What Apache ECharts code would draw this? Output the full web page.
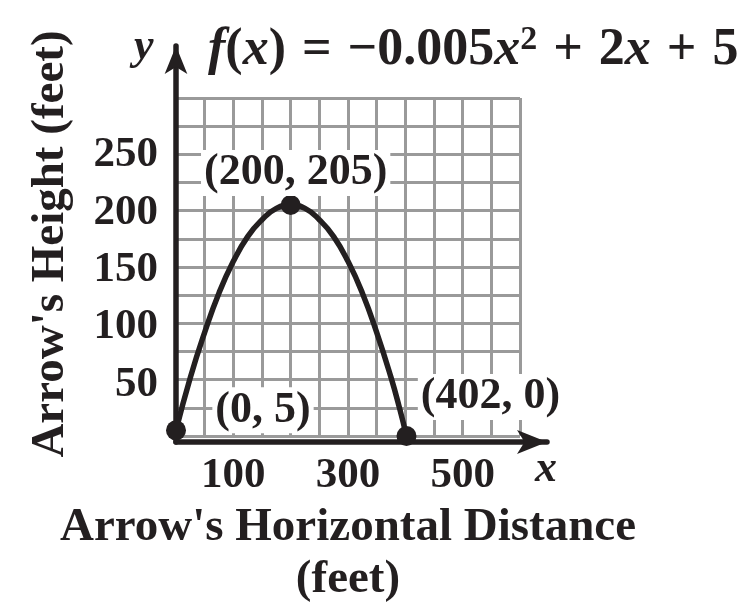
<!DOCTYPE html>
<html>
<head>
<meta charset="utf-8">
<script src="https://cdn.jsdelivr.net/npm/echarts@6/dist/echarts.min.js"></script>
<style>
html,body{margin:0;padding:0;background:#fff;}
#c{width:749px;height:611px;}
</style>
</head>
<body>
<div id="c"></div>
<script>
// Curve samples
const curveX = [0, 25, 50, 75, 100, 125, 150, 175, 200, 225, 250, 275, 300, 325, 350, 375, 390, 402];
const curveY = [5, 52, 92, 127, 155, 177, 192, 202, 205, 202, 192, 177, 155, 127, 92, 52, 24.5, 0];
// Labelled points
const pointX = [0, 200, 402];
const pointY = [5, 205, 0];
const pointLabels = ['(0, 5)', '(200, 205)', '(402, 0)'];
// Tick labels shown
const xTickLabels = [100, 300, 500];
const yTickLabels = [50, 100, 150, 200, 250];
const yTitle = "Arrow's Height (feet)";
const xTitle = "Arrow's Horizontal Distance\n(feet)";

const FONT = "'Liberation Serif','Times New Roman',serif";
const INK = '#231f20';
const GRIDC = '#9a9a9a';

const chart = echarts.init(document.getElementById('c'), null, {renderer: 'canvas'});

const curveData = curveX.map((x, i) => [x, curveY[i]]);
const labelOffsets = [[87, -20], [5, -32], [84, -39]];
const pointData = pointX.map((x, i) => ({
  value: [x, pointY[i]],
  label: {
    show: true,
    formatter: pointLabels[i],
    position: 'inside',
    offset: labelOffsets[i]
  }
}));

const option = {
  backgroundColor: '#fff',
  animation: false,
  title: {
    text: '{i|f}{b|(}{i|x}{b|)}{g| = }{b|\u22120.005}{i|x}{s|2}{g| + }{b|2}{i|x}{g| + }{b|5}',
    left: 203,
    top: 18,
    textStyle: {
      rich: {
        i: {fontFamily: FONT, fontStyle: 'italic', fontWeight: 'bold', fontSize: 52, color: INK},
        b: {fontFamily: FONT, fontWeight: 'bold', fontSize: 52, color: INK},
        g: {fontFamily: FONT, fontWeight: 'bold', fontSize: 52, color: INK, padding: [0, 3]},
        s: {fontFamily: FONT, fontWeight: 'bold', fontSize: 34, color: INK, verticalAlign: 'top', padding: [0, 0, 22, 0]}
      }
    }
  },
  grid: [
    {left: 176, top: 98, width: 344, height: 344},
    {left: 176, top: 46, width: 371, height: 396}
  ],
  xAxis: [
    {
      type: 'value', gridIndex: 0, min: 0, max: 600, interval: 50,
      axisLine: {show: false}, axisTick: {show: false}, axisLabel: {show: false},
      splitLine: {show: true, lineStyle: {color: GRIDC, width: 3}},
      name: xTitle, nameLocation: 'middle', nameGap: 66,
      nameTextStyle: {fontFamily: FONT, fontWeight: 'bold', fontSize: 47, color: INK, lineHeight: 52}
    },
    {
      type: 'value', gridIndex: 1, min: 0, max: 371 / 0.57333, interval: 100,
      axisLine: {show: true, lineStyle: {color: INK, width: 5.5}, symbol: ['none', 'arrow'], symbolSize: [18, 30]},
      axisTick: {show: false},
      splitLine: {show: false},
      axisLabel: {
        show: true, margin: 12, showMaxLabel: false,
        fontFamily: FONT, fontWeight: 'bold', fontSize: 43, color: INK,
        formatter: v => xTickLabels.includes(v) ? String(v) : ''
      }
    }
  ],
  yAxis: [
    {
      type: 'value', gridIndex: 0, min: 0, max: 300, interval: 25,
      axisLine: {show: false}, axisTick: {show: false}, axisLabel: {show: false},
      splitLine: {show: true, lineStyle: {color: GRIDC, width: 3}}
    },
    {
      type: 'value', gridIndex: 1, min: 0, max: 396 / 1.14667, interval: 50,
      axisLine: {show: true, lineStyle: {color: INK, width: 5.5}, symbol: ['none', 'arrow'], symbolSize: [17, 28]},
      axisTick: {show: false},
      splitLine: {show: false},
      axisLabel: {
        show: true, margin: 18, showMaxLabel: false,
        fontFamily: FONT, fontWeight: 'bold', fontSize: 43, color: INK,
        formatter: v => yTickLabels.includes(v) ? String(v) : ''
      },
      name: yTitle, nameLocation: 'middle', nameGap: 102, nameRotate: 90,
      nameTextStyle: {fontFamily: FONT, fontWeight: 'bold', fontSize: 47, color: INK}
    }
  ],
  graphic: [
    {type: 'text', left: 134, top: 26, style: {text: 'y', font: "italic bold 44px 'Liberation Serif', serif", fill: INK}},
    {type: 'text', left: 535, top: 448, style: {text: 'x', font: "italic bold 44px 'Liberation Serif', serif", fill: INK}}
  ],
  series: [
    {
      type: 'line', xAxisIndex: 0, yAxisIndex: 0,
      data: curveData, smooth: true, showSymbol: false,
      lineStyle: {color: INK, width: 5.5}, z: 3
    },
    {
      type: 'scatter', xAxisIndex: 0, yAxisIndex: 0,
      data: pointData, symbolSize: 20,
      itemStyle: {color: INK, opacity: 1},
      label: {
        fontFamily: FONT, fontWeight: 'bold', fontSize: 44, color: INK, opacity: 1,
        backgroundColor: '#fff', padding: [2, 3, 0, 3]
      },
      z: 4
    }
  ]
};
chart.setOption(option);
</script>
</body>
</html>
